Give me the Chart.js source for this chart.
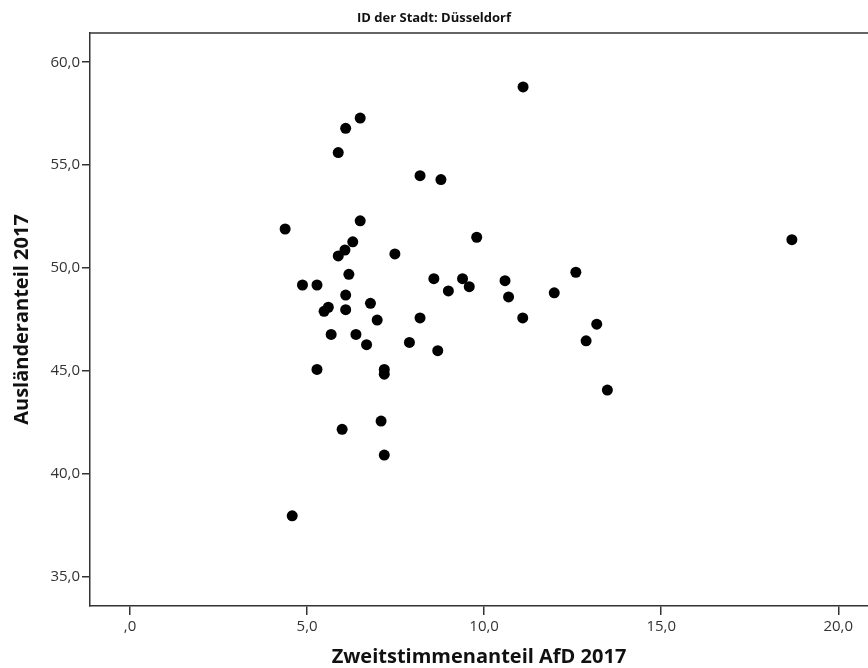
<!DOCTYPE html>
<html>
<head>
<meta charset="utf-8">
<script src="https://cdn.jsdelivr.net/npm/chart.js@4/dist/chart.umd.min.js"></script>
<style>
  html, body { margin: 0; padding: 0; background: #fff; }
  #wrap { width: 868px; height: 668px; }
</style>
</head>
<body>
<div id="wrap"><canvas id="chart"></canvas></div>
<script>
// AfD second-vote share (x) vs. share of foreigners (y), Düsseldorf districts
const afdShare = [6.5, 6.09, 5.88, 8.19, 8.78, 6.5, 4.38, 9.79, 6.29, 6.07, 5.88, 7.48, 6.18,
  4.87, 5.28, 8.58, 9.39, 9.58, 8.99, 10.59, 10.69, 11.98, 6.09, 5.6, 5.48, 6.09, 6.79, 6.98,
  8.19, 11.09, 5.68, 6.38, 6.68, 7.89, 8.69, 5.28, 7.18, 7.18, 7.09, 5.99, 7.18, 4.58, 18.69,
  12.59, 13.18, 12.88, 13.48, 11.1];
const foreignShare = [57.29, 56.79, 55.61, 54.49, 54.3, 52.3, 51.9, 51.5, 51.28, 50.88, 50.59, 50.69, 49.7,
  49.18, 49.18, 49.49, 49.49, 49.1, 48.89, 49.39, 48.6, 48.8, 48.69, 48.1, 47.9, 47.98, 48.29, 47.48,
  47.58, 47.58, 46.78, 46.78, 46.28, 46.39, 45.99, 45.08, 45.08, 44.85, 42.57, 42.17, 40.92, 37.97, 51.38,
  49.8, 47.28, 46.47, 44.08, 58.8];
const xTicks = [0, 5, 10, 15, 20];
const yTicks = [35, 40, 45, 50, 55, 60];

const fmt = v => {
  let s = v.toFixed(1).replace(".", ",");
  if (s.startsWith("0,")) s = s.slice(1);
  return s;
};

const points = afdShare.map((x, i) => ({ x: x, y: foreignShare[i] }));

// top frame line
const frameTop = {
  id: "frameTop",
  afterDraw(chart) {
    const { ctx, chartArea } = chart;
    ctx.save();
    ctx.strokeStyle = "#333";
    ctx.lineWidth = 1.5;
    ctx.beginPath();
    ctx.moveTo(chartArea.left, chartArea.top);
    ctx.lineTo(chartArea.right, chartArea.top);
    ctx.stroke();
    ctx.restore();
  }
};

new Chart(document.getElementById("chart").getContext("2d"), {
  type: "scatter",
  data: {
    datasets: [{
      data: points,
      backgroundColor: "#000",
      borderColor: "#000",
      borderWidth: 0,
      pointRadius: 5.5,
      pointHoverRadius: 5.5
    }]
  },
  options: {
    responsive: true,
    maintainAspectRatio: false,
    animation: false,
    layout: { autoPadding: false, padding: { left: 0, right: 0, top: 0, bottom: 0 } },
    scales: {
      x: {
        type: "linear",
        min: -1.13,
        max: 20.84,
        afterBuildTicks: scale => { scale.ticks = xTicks.map(v => ({ value: v })); },
        afterFit: scale => { scale.height = 62; },
        border: { display: true, color: "#333", width: 1.5 },
        grid: { drawOnChartArea: false, drawTicks: true, tickLength: 9, color: "#333", lineWidth: 1.5 },
        ticks: {
          color: "#333",
          padding: 3,
          maxRotation: 0,
          font: { family: "Open Sans", size: 15 },
          callback: v => fmt(v)
        },
        title: {
          display: true,
          text: "Zweitstimmenanteil AfD 2017",
          color: "#111",
          font: { family: "Open Sans", size: 20, weight: "bold", lineHeight: 1.1 },
          padding: { top: 0, bottom: 0 }
        }
      },
      y: {
        type: "linear",
        min: 33.59,
        max: 61.42,
        afterBuildTicks: scale => { scale.ticks = yTicks.map(v => ({ value: v })); },
        afterFit: scale => { scale.width = 90; },
        border: { display: true, color: "#333", width: 1.5 },
        grid: { drawOnChartArea: false, drawTicks: true, tickLength: 8, color: "#333", lineWidth: 1.5 },
        ticks: {
          color: "#333",
          padding: 2,
          font: { family: "Open Sans", size: 15 },
          callback: v => fmt(v)
        },
        title: {
          display: true,
          text: "Ausländeranteil 2017",
          color: "#111",
          font: { family: "Open Sans", size: 20, weight: "bold", lineHeight: 1.1 },
          padding: { top: 11, bottom: 0 }
        }
      }
    },
    plugins: {
      legend: { display: false },
      tooltip: { enabled: false },
      title: {
        display: true,
        text: "ID der Stadt: Düsseldorf",
        color: "#111",
        font: { family: "Open Sans", size: 13, weight: "bold", lineHeight: 1.2 },
        padding: { top: 10, bottom: 7.4 }
      }
    }
  },
  plugins: [frameTop]
});
</script>
</body>
</html>
